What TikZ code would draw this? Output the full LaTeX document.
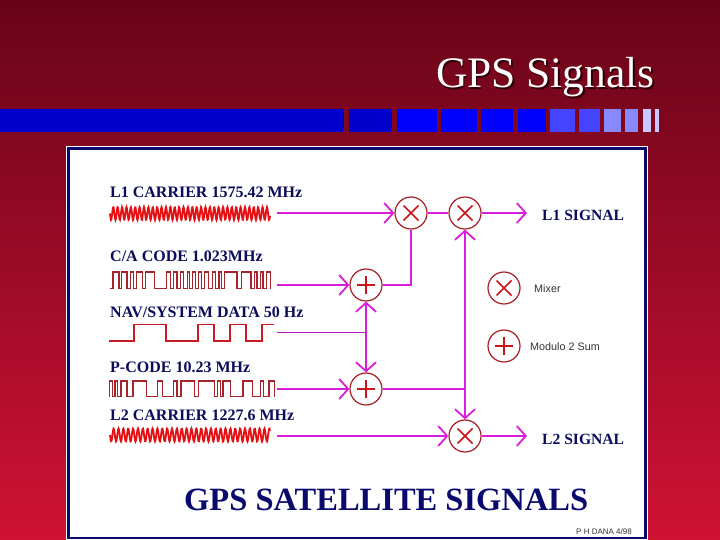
\documentclass[tikz,border=0pt]{standalone}
\usepackage{xcolor}
\usepackage{fontspec}
\setmainfont{Liberation Serif}
\setsansfont{Liberation Sans}
\usetikzlibrary{arrows.meta}
\definecolor{SlideTop}{HTML}{680418}
\definecolor{SlideFoot}{HTML}{D01234}
\definecolor{PanelNavy}{HTML}{0A0A6E}
\definecolor{LabelInk}{HTML}{0C0C5C}
\definecolor{RingRed}{HTML}{A82028}
\definecolor{GlyphRed}{HTML}{CC1418}
\definecolor{CarrierRed}{HTML}{E41014}
\definecolor{CodeRed}{HTML}{A8242C}
\definecolor{NavRed}{HTML}{C81C24}
\definecolor{SignalPink}{HTML}{D81EDC}
\definecolor{ShadowInk}{HTML}{300008}
\definecolor{BarDeep}{HTML}{0000CC}
\definecolor{BarFull}{HTML}{0000FF}
\definecolor{BarMid}{HTML}{4444FF}
\definecolor{BarSoft}{HTML}{8888FF}
\definecolor{BarPale}{HTML}{C8C8FF}

\newcommand{\pulsetrain}[4]{%
  \foreach \rise/\fall [remember=\fall as \last (initially #1)] in {#4}
    \draw[code] (\last,#3) -- (\rise,#3) -- (\rise,#2) -- (\fall,#2) -- (\fall,#3);
}

\begin{document}
\begin{tikzpicture}[
  x=1pt,y=-1pt,
  sig/.style={font=\fontsize{16}{17}\selectfont\bfseries,text=LabelInk,anchor=base west,inner sep=0pt},
  outsig/.style={sig,font=\fontsize{15.6}{16}\selectfont\bfseries},
  note/.style={font=\sffamily\fontsize{10.8}{12}\selectfont,text=black!80,anchor=base west,inner sep=0pt},
  ring/.style={circle,draw=RingRed,fill=white,line width=1.2pt,minimum size=32pt,inner sep=0pt},
  mixer/.style={ring,path picture={
    \draw[GlyphRed,line width=1.5pt] (path picture bounding box.center) ++(-7.5,-7.5) -- ++(15,15) ++(0,-15) -- ++(-15,15);}},
  summer/.style={ring,path picture={
    \draw[GlyphRed,line width=1.5pt] (path picture bounding box.center) ++(-9,0) -- ++(18,0) ++(-9,-9) -- ++(0,18);}},
  flow/.style={-{Straight Barb[length=9pt,width=20pt,line width=1.8pt]},draw=SignalPink,line width=1.8pt},
  plain/.style={draw=SignalPink,line width=1.8pt},
  thin/.style={draw=SignalPink!85!black,line width=1pt},
  carrier/.style={draw=CarrierRed,line width=1.8pt},
  code/.style={draw=CodeRed,line width=1.4pt},
  nav/.style={draw=NavRed,line width=1.8pt}
]
  \useasboundingbox (0,0) rectangle (720,540);
  \shade[top color=SlideTop,bottom color=SlideFoot] (0,0) rectangle (720,540);

  % title and bar
  \node[font=\fontsize{43.5}{44}\selectfont,text=ShadowInk,anchor=base east,inner sep=0pt] (titleshadow) at (656.5,89.5) {GPS Signals};
  \node[font=\fontsize{43.5}{44}\selectfont,text=white,anchor=base east,inner sep=0pt] (title) at (655,88) {GPS Signals};
  \foreach \a/\b/\c in {0/344/BarDeep,349/392/BarDeep,397/437/BarFull,441/477/BarFull,481/513/BarFull,518/546/BarFull,
    550/575/BarMid,579/600/BarMid,604/621/BarSoft,625/638/BarSoft,643/651/BarPale,655/659/BarPale}
    \fill[\c] (\a,109) rectangle (\b,132);

  % panel
  \fill[white] (66,146) rectangle (648,540);
  \draw[PanelNavy,line width=2.5pt] (68.5,148.5) rectangle (645.5,538);

  % signals
  \node[sig] (l1label) at (110,197) {L1 CARRIER 1575.42 MHz};
  \node[sig] (calabel) at (110,261) {C/A CODE 1.023MHz};
  \node[sig] (navlabel) at (110,317) {NAV/SYSTEM DATA 50 Hz};
  \node[sig] (plabel) at (110,372) {P-CODE 10.23 MHz};
  \node[sig] (l2label) at (110,420) {L2 CARRIER 1227.6 MHz};
  \node[outsig] (l1out) at (542,221) {L1 SIGNAL};
  \node[outsig] (l2out) at (542,444) {L2 SIGNAL};

  \draw[carrier] plot[domain=110:270,samples=321] (\x,{213.5+6.5*sin((\x-110)*82)});
  \draw[carrier] plot[domain=110:270,samples=321] (\x,{435+6.5*sin((\x-110)*74)});
  \pulsetrain{110}{272}{288.5}{113/119,121.7/127,130.3/133.7,136.3/142.3,145.7/154.3,166.7/170.3,173.7/177,180.3/183.7,
    187.7/189.7,192.3/195.7,198.3/201.7,204.3/208.3,212.3/215.7,219/221.7,224.3/237,241.7/251,254.3/257,260.3/263,266.3/270.3}
  \pulsetrain{109.7}{381}{396.7}{109.7/112.3,115/117.7,121/127,133/146.3,157.7/162.3,173.7/177,181/194.3,198.3/214.3,
    217.7/220.3,223/230.3,243/252.3,260.3/263.7,269/274.3}
  \draw[nav] (109,340.7) -- (133.7,340.7) -- (133.7,324.5) -- (166.3,324.5) -- (166.3,340.7) -- (198.3,340.7) -- (198.3,324.5)
    -- (214.3,324.5) -- (214.3,340.7) -- (229.7,340.7) -- (229.7,324.5) -- (245.7,324.5) -- (245.7,340.7) -- (262.3,340.7)
    -- (262.3,324.5) -- (274.3,324.5);

  % rings
  \node[mixer] (mixa) at (411,213) {};
  \node[mixer] (mixb) at (465,213) {};
  \node[mixer] (mixc) at (465,436) {};
  \node[summer] (suma) at (366,285) {};
  \node[summer] (sumb) at (366,389) {};
  \node[mixer] (keymix) at (504,288) {};
  \node[summer] (keysum) at (504,346) {};
  \node[note] (mixnote) at (534,292) {Mixer};
  \node[note] (sumnote) at (530,350) {Modulo 2 Sum};

  \coordinate (l1in) at (277,213);
  \coordinate (cain) at (277,285);
  \coordinate (navin) at (277,332.5);
  \coordinate (pin) at (277,389);
  \coordinate (l2in) at (277,436);
  \coordinate (navjoin) at (366,332.5);
  \coordinate (busjoin) at (465,389);
  \coordinate (l1end) at (527,213);
  \coordinate (l2end) at (527,436);

  \draw[flow] (l1in) -- (mixa);
  \draw[plain] (mixa) -- (mixb);
  \draw[flow] (mixb) -- (l1end);
  \draw[flow] (cain) -- (suma);
  \draw[plain] (suma.east) -| (mixa.south);
  \draw[thin] (navin) -- (navjoin);
  \draw[flow] (navjoin) -- (suma);
  \draw[flow] (navjoin) -- (sumb);
  \draw[flow] (pin) -- (sumb);
  \draw[plain] (sumb) -- (busjoin);
  \draw[flow] (busjoin) -- (mixb);
  \draw[flow] (busjoin) -- (mixc);
  \draw[flow] (l2in) -- (mixc);
  \draw[flow] (mixc) -- (l2end);

  \node[font=\fontsize{32.5}{34}\selectfont\bfseries,text=PanelNavy,anchor=base west,inner sep=0pt] (caption) at (184,510) {GPS SATELLITE SIGNALS};
  \node[font=\sffamily\fontsize{8}{9}\selectfont,text=black!80,anchor=base east,inner sep=0pt] (credit) at (632,534) {P H DANA 4/98};
\end{tikzpicture}
\end{document}
